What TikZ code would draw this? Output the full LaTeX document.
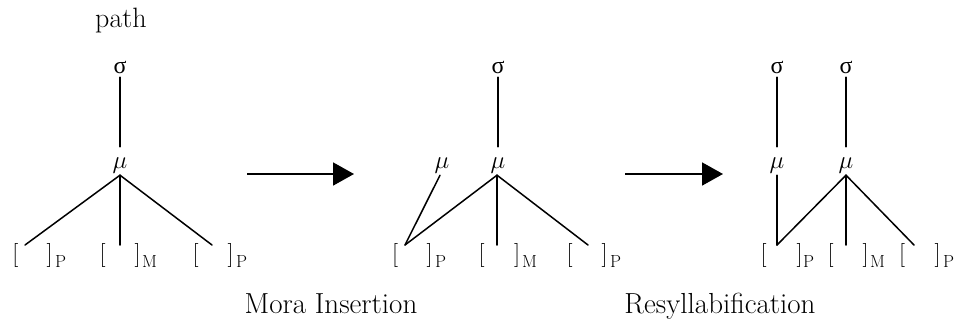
\documentclass[tikz,border=0pt]{standalone}
\usepackage{fontspec}
\newfontfamily\grkfont{Liberation Serif}
\usetikzlibrary{arrows.meta}
\begin{document}
\begin{tikzpicture}[x=1pt,y=-1pt,
  edge/.style={line width=1.5pt,line cap=round},
  trans/.style={line width=1.8pt,-{Triangle[length=21pt,width=23pt]}},
  sig/.style={inner sep=0pt,text height=11pt,text depth=0pt,anchor=base,font=\grkfont\fontsize{24}{24}\selectfont},
  mu/.style={inner sep=0pt,text height=21pt,text depth=7pt,anchor=base,font=\fontsize{23}{23}\selectfont},
  brk/.style={inner sep=0pt,anchor=base,font=\fontsize{24}{24}\selectfont},
  sub/.style={inner sep=0pt,anchor=base west,font=\fontsize{17.5}{17.5}\selectfont},
  lab/.style={inner sep=0pt,anchor=base,font=\fontsize{29}{29}\selectfont}]
\useasboundingbox (0,0) rectangle (959,327);

\node[inner sep=0pt,anchor=base west,font=\fontsize{28}{28}\selectfont] (title) at (95,27) {path};

% ---------- tree 1 ----------
\node[sig] (s1) at (120,73) {σ};
\node[mu] (m1) at (120,168) {$\mu$};
\coordinate (a1) at (25,245);
\coordinate (b1) at (120,245);
\coordinate (c1) at (212,245);
\draw[edge] ([yshift=-4pt]s1.south) -- (m1.north);
\draw[edge] (m1.south) -- (a1);
\draw[edge] (m1.south) -- (b1);
\draw[edge] (m1.south) -- (c1);
\node[brk] (l1a) at (15.5,261) {[};
\node[brk] (r1a) at (49.5,261) {]};
\node[sub] (p1a) at (55,267) {P};
\node[brk] (l1b) at (102.5,261) {[};
\node[brk] (r1b) at (137.5,261) {]};
\node[sub] (p1b) at (142,267) {M};
\node[brk] (l1c) at (195.5,261) {[};
\node[brk] (r1c) at (230.5,261) {]};
\node[sub] (p1c) at (236,267) {P};

% ---------- arrow 1 ----------
\coordinate (t1s) at (247,174);
\coordinate (t1e) at (354,174);
\draw[trans] (t1s) -- (t1e);
\node[lab] (rule1) at (331,313) {Mora Insertion};

% ---------- tree 2 ----------
\node[sig] (s2) at (498,73) {σ};
\node[mu] (m2) at (498,168) {$\mu$};
\node[mu] (n2) at (442,168) {$\mu$};
\coordinate (a2) at (405,245);
\coordinate (b2) at (497,245);
\coordinate (c2) at (588,245);
\draw[edge] ([yshift=-4pt]s2.south) -- (m2.north);
\draw[edge] ([xshift=-2pt]n2.south) -- (a2);
\draw[edge] ([xshift=-1pt]m2.south) -- (a2);
\draw[edge] ([xshift=-1pt]m2.south) -- (b2);
\draw[edge] ([xshift=-1pt]m2.south) -- (c2);
\node[brk] (l2a) at (395,261) {[};
\node[brk] (r2a) at (429.5,261) {]};
\node[sub] (p2a) at (435,267) {P};
\node[brk] (l2b) at (481.5,261) {[};
\node[brk] (r2b) at (517,261) {]};
\node[sub] (p2b) at (522,267) {M};
\node[brk] (l2c) at (569.5,261) {[};
\node[brk] (r2c) at (604.5,261) {]};
\node[sub] (p2c) at (610,267) {P};

% ---------- arrow 2 ----------
\coordinate (t2s) at (625,174);
\coordinate (t2e) at (723,174);
\draw[trans] (t2s) -- (t2e);
\node[lab] (rule2) at (720,313) {Resyllabification};

% ---------- tree 3 ----------
\node[sig] (s3a) at (777,73) {σ};
\node[sig] (s3b) at (846,73) {σ};
\node[mu] (m3a) at (777,168) {$\mu$};
\node[mu] (m3b) at (846,168) {$\mu$};
\coordinate (a3) at (777,245);
\coordinate (b3) at (846,245);
\coordinate (c3) at (914,245);
\draw[edge] ([yshift=-4pt]s3a.south) -- (m3a.north);
\draw[edge] ([yshift=-4pt]s3b.south) -- (m3b.north);
\draw[edge] (m3a.south) -- (a3);
\draw[edge] (a3) -- (m3b.south);
\draw[edge] (m3b.south) -- (b3);
\draw[edge] (m3b.south) -- (c3);
\node[brk] (l3a) at (763.5,261) {[};
\node[brk] (r3a) at (799.5,261) {]};
\node[sub] (p3a) at (803,267) {P};
\node[brk] (l3b) at (830.5,261) {[};
\node[brk] (r3b) at (865.5,261) {]};
\node[sub] (p3b) at (870,267) {M};
\node[brk] (l3c) at (902,261) {[};
\node[brk] (r3c) at (937.5,261) {]};
\node[sub] (p3c) at (943,267) {P};
\end{tikzpicture}
\end{document}
